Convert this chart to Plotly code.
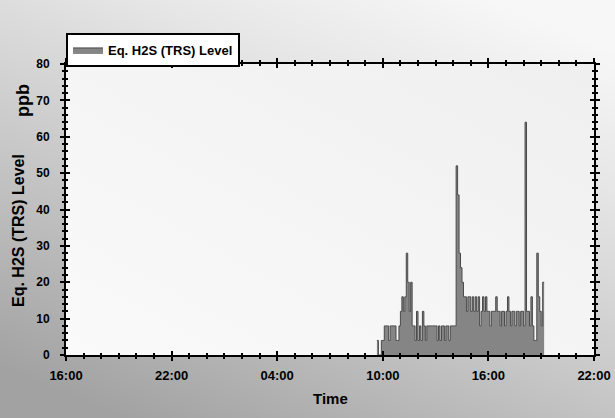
import base64
import pandas as pd
import plotly.graph_objects as go

# ---- data ----
series_name = "Eq. H2S (TRS) Level"
start_time = "2021-01-02 09:40"
step_minutes = 5
values = [
    4, 0, 0, 4, 4, 8, 8, 8, 4, 8,          # 09:40 - 10:25
    8, 8, 8, 4, 4, 8, 12, 16, 12, 16,      # 10:30 - 11:15
    28, 20, 12, 20, 8, 8, 4, 12, 4, 8,     # 11:20 - 12:05
    4, 12, 8, 4, 8, 8, 8, 8, 8, 8,         # 12:10 - 12:55
    8, 4, 8, 4, 8, 8, 4, 8, 8, 4,          # 13:00 - 13:45
    8, 8, 8, 8, 52, 44, 28, 24, 20, 16,    # 13:50 - 14:35
    16, 12, 16, 16, 12, 16, 12, 16, 12, 16,  # 14:40 - 15:25
    8, 12, 16, 12, 16, 12, 12, 8, 12, 12,  # 15:30 - 16:15
    12, 16, 12, 12, 8, 12, 12, 8, 12, 16,  # 16:20 - 17:05
    12, 8, 12, 12, 8, 12, 12, 8, 12, 12,   # 17:10 - 17:55
    8, 64, 12, 12, 8, 16, 8, 4, 4, 28,     # 18:00 - 18:45
    16, 12, 8, 20, 20,                     # 18:50 - 19:10
]
times = pd.date_range(start=start_time, periods=len(values), freq=f"{step_minutes}min")

x_range = ["2021-01-01 16:00", "2021-01-02 22:00"]
y_range = [0, 80]
y_tickvals = [0, 10, 20, 30, 40, 50, 60, 70, 80]
y_ticktext = ["0", "10", "20", "30", "40", "50", "60", "70", "80"]

# ---- layout geometry ----
W, H = 615, 418
L, R, T, B = 66, 21, 64, 63
PW, PH = W - L - R, H - T - B

bg_svg = (
    f'<svg xmlns="http://www.w3.org/2000/svg" width="{W}" height="{H}" viewBox="0 0 {W} {H}" preserveAspectRatio="none">'
    '<defs>'
    '<linearGradient id="a" x1="0.2" y1="1" x2="0.8" y2="0">'
    '<stop offset="0" stop-color="#a2a2a2"/><stop offset="0.4" stop-color="#c8c8c8"/>'
    '<stop offset="0.75" stop-color="#e6e6e6"/><stop offset="1" stop-color="#f7f7f7"/></linearGradient>'
    '<linearGradient id="b" x1="0" y1="1" x2="1" y2="0">'
    '<stop offset="0" stop-color="#fafafa"/><stop offset="1" stop-color="#efefef"/></linearGradient>'
    '</defs>'
    f'<rect width="{W}" height="{H}" fill="url(#a)"/>'
    f'<rect x="{L}" y="{T}" width="{PW}" height="{PH}" fill="url(#b)"/>'
    '</svg>'
)
bg_uri = "data:image/svg+xml;base64," + base64.b64encode(bg_svg.encode()).decode()

FONT = "Liberation Sans, Arial, sans-serif"

fig = go.Figure()
fig.add_trace(go.Scatter(
    x=times, y=values, name=series_name, mode="lines",
    line=dict(color="#4a4a4a", width=1, shape="hv"),
    fill="tozeroy", fillcolor="#858585",
))
# invisible trace on overlay axes so they render
fig.add_trace(go.Scatter(x=[times[0]], y=[0], xaxis="x2", yaxis="y2",
                         mode="markers", marker=dict(opacity=0), showlegend=False,
                         hoverinfo="skip"))

common_x = dict(type="date", range=x_range, dtick=6 * 3600 * 1000, automargin=False,
                tick0="2021-01-01 16:00", showgrid=False, zeroline=False)
common_y = dict(range=y_range, tickvals=y_tickvals, showgrid=False, zeroline=False,
                automargin=False)

fig.update_layout(
    width=W, height=H,
    margin=dict(l=L, r=R, t=T, b=B, autoexpand=False),
    paper_bgcolor="#cfcfcf",
    plot_bgcolor="rgba(0,0,0,0)",
    font=dict(family=FONT, color="black"),
    images=[dict(source=bg_uri, xref="paper", yref="paper",
                 x=-L / PW, y=1 + T / PH, sizex=W / PW, sizey=H / PH,
                 xanchor="left", yanchor="top", sizing="stretch", layer="below")],
    xaxis=dict(**common_x, tickformat="%H:%M", ticks="outside", ticklen=4, tickwidth=2,
               tickcolor="black", showline=True, linecolor="black", linewidth=2,
               mirror="ticks", ticklabelstandoff=3,
               tickfont=dict(size=13, weight="bold", family=FONT),
               minor=dict(dtick=3600 * 1000, ticks="outside", ticklen=2, tickwidth=2,
                          tickcolor="black")),
    xaxis2=dict(**common_x, overlaying="x", side="bottom", showticklabels=False,
                ticks="inside", ticklen=4, tickwidth=2, tickcolor="black",
                showline=False, mirror="ticks",
                minor=dict(dtick=3600 * 1000, ticks="inside", ticklen=2, tickwidth=2,
                           tickcolor="black")),
    yaxis=dict(**common_y, ticktext=y_ticktext, ticks="outside", ticklen=4, tickwidth=2,
               tickcolor="black", showline=True, linecolor="black", linewidth=2,
               mirror="ticks", ticklabelstandoff=8,
               tickfont=dict(size=12, weight="bold", family=FONT),
               minor=dict(dtick=2, ticks="outside", ticklen=2, tickwidth=1.5,
                          tickcolor="black")),
    yaxis2=dict(**common_y, overlaying="y", side="left", showticklabels=False,
                ticks="inside", ticklen=4, tickwidth=2, tickcolor="black",
                showline=False, mirror="ticks",
                minor=dict(dtick=2, ticks="inside", ticklen=2, tickwidth=1.5,
                           tickcolor="black")),
    showlegend=True,
    legend=dict(x=0, y=1 + (T - 33) / PH, xanchor="left", yanchor="top",
                bgcolor="white", bordercolor="black", borderwidth=2,
                font=dict(size=13, weight="bold", family=FONT),
                itemwidth=30, tracegroupgap=0),
    annotations=[
        dict(text="<b>Time</b>", xref="paper", yref="paper", showarrow=False,
             x=(330 - L) / PW, y=-(398 - T - PH) / PH, xanchor="center", yanchor="middle",
             font=dict(size=15, family=FONT)),
        dict(text="<b>Eq. H2S (TRS) Level</b>", xref="paper", yref="paper", showarrow=False,
             textangle=-90, x=(18 - L) / PW, y=1 - (231 - T) / PH,
             xanchor="center", yanchor="middle", font=dict(size=16, family=FONT)),
        dict(text="<b>ppb</b>", xref="paper", yref="paper", showarrow=False,
             textangle=-90, x=(23 - L) / PW, y=1 - (101 - T) / PH,
             xanchor="center", yanchor="middle", font=dict(size=18, family=FONT)),
    ],
)

fig.write_html(
    "out.html",
    config={"displayModeBar": False},
    post_script="document.body.style.margin='0';document.body.style.overflow='hidden';",
)
